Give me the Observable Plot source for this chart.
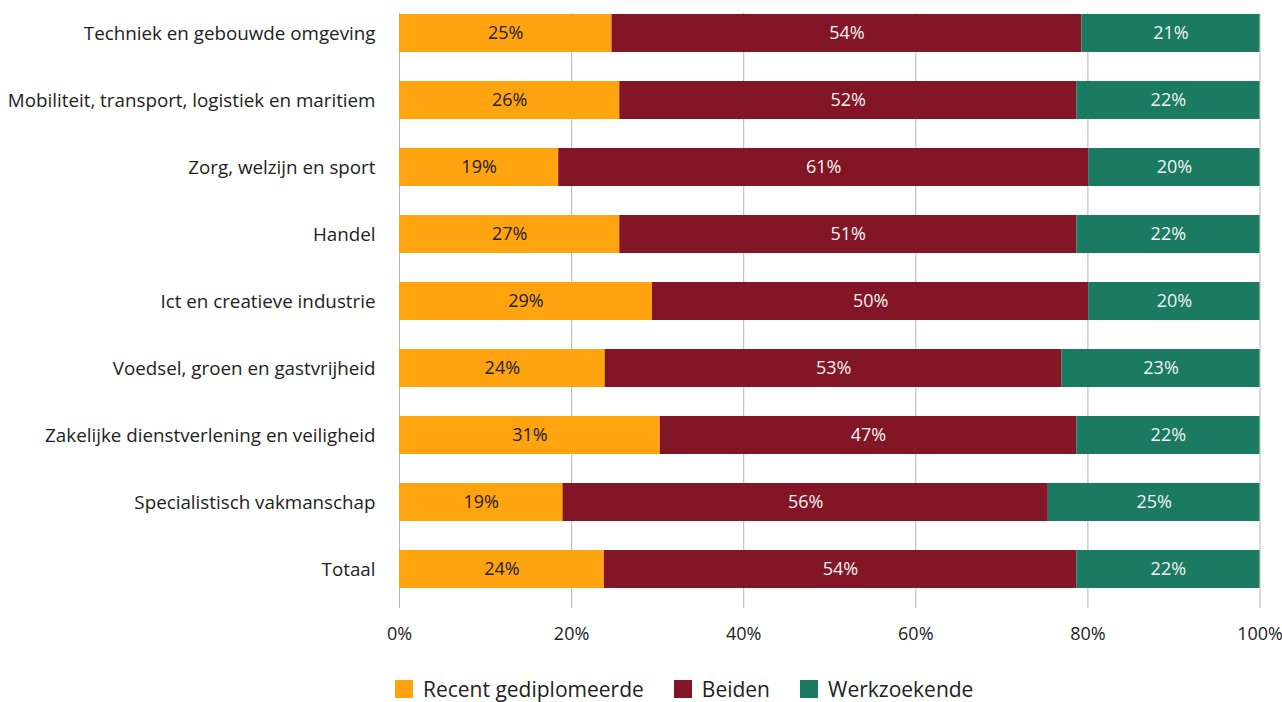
<!DOCTYPE html>
<html>
<head>
<meta charset="utf-8">
<script src="https://cdn.jsdelivr.net/npm/d3@7"></script>
<script src="https://cdn.jsdelivr.net/npm/@observablehq/plot@0.6"></script>
<style>
  body { margin: 0; background: #fff; font-family: "Open Sans", sans-serif; color: #222; overflow: hidden; }
  #chart svg { display: block; }
  #legend { display: flex; align-items: center; margin-left: 395px; margin-top: 14px; font-size: 21px; line-height: 26px; height: 26px; }
  #legend .item { display: flex; align-items: center; margin-right: 30px; }
  #legend .sw { width: 18px; height: 18px; margin-right: 10px; }
</style>
</head>
<body>
<div id="chart"></div>
<div id="legend"></div>
<script>
const categories = [
  "Techniek en gebouwde omgeving",
  "Mobiliteit, transport, logistiek en maritiem",
  "Zorg, welzijn en sport",
  "Handel",
  "Ict en creatieve industrie",
  "Voedsel, groen en gastvrijheid",
  "Zakelijke dienstverlening en veiligheid",
  "Specialistisch vakmanschap",
  "Totaal"
];
const series = ["Recent gediplomeerde", "Beiden", "Werkzoekende"];
const colors = ["#FFA40E", "#821626", "#1A7A62"];

// bar lengths (percent)
const recent = [24.7, 25.6, 18.5, 25.6, 29.4, 23.9, 30.3, 19.0, 23.8];
const beiden = [54.6, 53.1, 61.6, 53.1, 50.7, 53.1, 48.4, 56.4, 54.9];
const werkzoekend = [20.7, 21.3, 19.9, 21.3, 19.9, 23.0, 21.3, 24.6, 21.3];

// printed labels
const recentLabels = ["25%", "26%", "19%", "27%", "29%", "24%", "31%", "19%", "24%"];
const beidenLabels = ["54%", "52%", "61%", "51%", "50%", "53%", "47%", "56%", "54%"];
const werkLabels = ["21%", "22%", "20%", "22%", "20%", "23%", "22%", "25%", "22%"];

const xTicks = [0, 20, 40, 60, 80, 100];

const valuesBySeries = [recent, beiden, werkzoekend];
const labelsBySeries = [recentLabels, beidenLabels, werkLabels];
const data = [];
categories.forEach((c, i) => {
  series.forEach((s, j) => {
    data.push({cat: c, series: s, value: valuesBySeries[j][i], label: labelsBySeries[j][i]});
  });
});

const chart = Plot.plot({
  width: 1282,
  height: 662,
  marginLeft: 399,
  marginRight: 22.5,
  marginTop: 13,
  marginBottom: 54,
  style: {fontFamily: "Open Sans", fontSize: "18px", color: "#222", background: "#fff"},
  x: {domain: [0, 100]},
  y: {domain: categories, range: [12.5, 590], paddingInner: 0.44, paddingOuter: 0},
  color: {domain: series, range: colors},
  marks: [
    Plot.gridX(xTicks, {stroke: "#b5b5b5", strokeOpacity: 1, strokeWidth: 1}),
    Plot.barX(data, Plot.stackX({x: "value", y: "cat", fill: "series"})),
    Plot.text(data, Plot.stackX({
      x: "value", y: "cat", text: "label",
      fill: d => d.series === "Recent gediplomeerde" ? "#222" : "#f2f2f2",
      fontSize: 18
    })),
    Plot.axisX({ticks: xTicks, tickSize: 0, tickPadding: 19, tickFormat: d => d + "%", fontSize: 18, label: null}),
    Plot.axisY({tickSize: 0, tickPadding: 24, fontSize: 18.8, label: null})
  ]
});
document.getElementById("chart").appendChild(chart);

const legend = document.getElementById("legend");
series.forEach((s, j) => {
  const item = document.createElement("div");
  item.className = "item";
  const sw = document.createElement("div");
  sw.className = "sw";
  sw.style.background = colors[j];
  const t = document.createElement("span");
  t.textContent = s;
  item.appendChild(sw);
  item.appendChild(t);
  legend.appendChild(item);
});
</script>
</body>
</html>
